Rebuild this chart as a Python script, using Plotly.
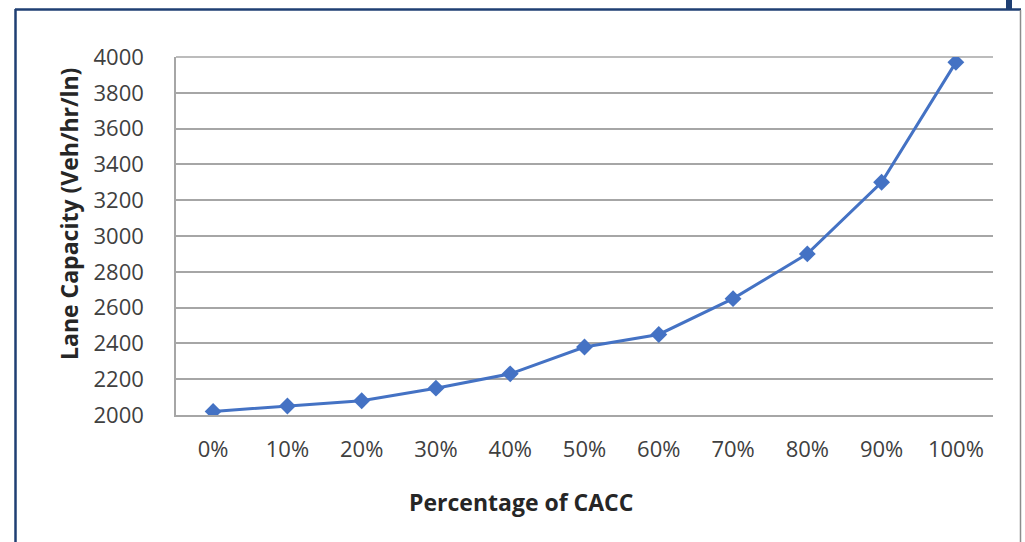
import plotly.graph_objects as go

# Lane capacity versus CACC market penetration
penetration = ["0%", "10%", "20%", "30%", "40%", "50%", "60%", "70%", "80%", "90%", "100%"]
capacity = [2020, 2050, 2080, 2150, 2230, 2380, 2450, 2650, 2900, 3300, 3970]

y_ticks = list(range(2000, 4001, 200))

W, H = 1025, 542
L, R, T, B = 176, 32, 57, 127
pw, ph = W - L - R, H - T - B


def px_x(x):
    return (x - L) / pw


def px_y(y):
    return (H - B - y) / ph


fig = go.Figure()
fig.add_trace(go.Scatter(
    x=penetration,
    y=capacity,
    mode="lines+markers",
    line=dict(color="#4472C4", width=3),
    marker=dict(symbol="diamond", size=13, color="#4472C4"),
    showlegend=False,
))

grid = "#A6A6A6"
tick_font = dict(family="Open Sans", size=22, color="#404040")
title_font = dict(family="Open Sans", size=23, color="#262626")

fig.update_layout(
    width=W, height=H,
    margin=dict(l=L, r=R, t=T, b=B),
    paper_bgcolor="white",
    plot_bgcolor="white",
    font=dict(family="Open Sans", color="#404040"),
    xaxis=dict(
        type="category",
        range=[-0.5, 10.5],
        showgrid=False,
        showline=True, linecolor=grid, linewidth=1.5,
        ticks="", tickfont=tick_font,
        ticklabelstandoff=14,
    ),
    yaxis=dict(
        range=[2000, 4000],
        tickvals=y_ticks,
        showgrid=True, gridcolor=grid, gridwidth=1.5,
        showline=True, linecolor=grid, linewidth=1.5,
        zeroline=False,
        ticks="", tickfont=tick_font,
        ticklabelstandoff=26,
    ),
    annotations=[
        dict(text="<b>Percentage of CACC</b>", xref="paper", yref="paper",
             x=px_x(521), y=px_y(502), showarrow=False, font=title_font,
             xanchor="center", yanchor="middle"),
        dict(text="<b>Lane Capacity (Veh/hr/ln)</b>", xref="paper", yref="paper",
             x=px_x(69), y=px_y(214), showarrow=False, font=title_font, textangle=-90,
             xanchor="center", yanchor="middle"),
    ],
    shapes=[
        # outer frame
        dict(type="line", xref="paper", yref="paper", x0=px_x(15.5), x1=px_x(15.5), y0=px_y(9), y1=px_y(545),
             line=dict(color="#1F3F73", width=2.5)),
        dict(type="line", xref="paper", yref="paper", x0=px_x(15), x1=px_x(1021), y0=px_y(9.5), y1=px_y(9.5),
             line=dict(color="#1F3F73", width=2.5)),
        dict(type="line", xref="paper", yref="paper", x0=px_x(1020.5), x1=px_x(1020.5), y0=px_y(10), y1=px_y(545),
             line=dict(color="#8C8C8C", width=1.5)),
        dict(type="rect", xref="paper", yref="paper", x0=px_x(1006), x1=px_x(1012), y0=px_y(-2), y1=px_y(10),
             fillcolor="#1F3F73", line=dict(width=0)),
        # top gridline at the upper bound
        dict(type="line", xref="paper", yref="paper", x0=0, x1=1, y0=1, y1=1,
             line=dict(color=grid, width=1.5), layer="below"),
    ],
)

fig.write_html("out.html")
